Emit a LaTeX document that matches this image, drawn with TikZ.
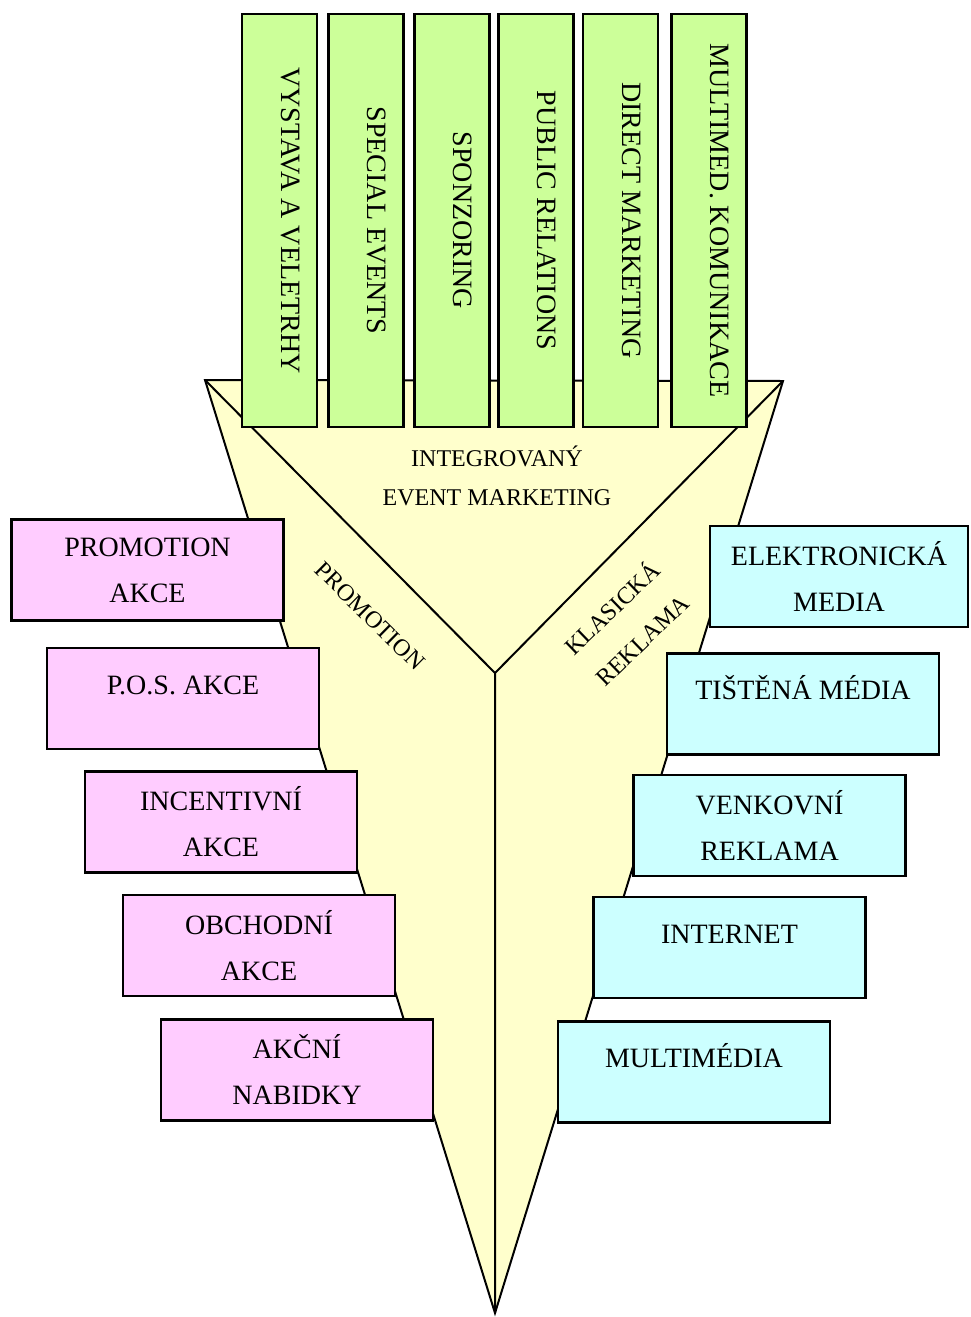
\documentclass[tikz,border=0pt]{standalone}
\usepackage{fontspec}
\setmainfont{Liberation Serif}
\usepackage{xcolor}

\definecolor{funnel}{RGB}{255,255,204}
\definecolor{barfill}{RGB}{204,255,153}
\definecolor{promofill}{RGB}{255,204,255}
\definecolor{mediafill}{RGB}{204,255,255}

\begin{document}
\begin{tikzpicture}[x=1pt,y=-1pt,
  every node/.style={font=\fontsize{28}{46}\selectfont},
  bar/.style={draw,line width=2.5pt,fill=barfill,rotate=-90,minimum width=413pt,minimum height=75pt,inner sep=0pt,text height=19pt,text depth=22pt},
  promobox/.style={draw,line width=2.5pt,fill=promofill,minimum width=272pt,minimum height=101pt,inner sep=0pt,align=center},
  mediabox/.style={promobox,fill=mediafill},
  oneline/.style={text height=19pt,text depth=28pt},
  slant/.style={font=\fontsize{24}{44}\selectfont,align=center,inner sep=0pt}]
  \useasboundingbox (0,0) rectangle (970,1317);
  % trychtyr
  \coordinate (tl) at (205,380); \coordinate (tr) at (783,381);
  \coordinate (hub) at (495,673); \coordinate (tip) at (495,1313);
  \draw[line width=2pt,fill=funnel] (tl) -- (tr) -- (tip) -- cycle;
  \draw[line width=2pt] (tl) -- (hub) -- (tr) (hub) -- (tip);
  \node[font=\fontsize{24}{39}\selectfont,align=center] (iem) at (497,476) {INTEGROVANÝ\\EVENT MARKETING};
  \node[slant,rotate=-44.5] (promo) at (370,616) {PROMOTION};
  \node[slant,rotate=44] (klas) at (626,623) {KLASICKÁ\\REKLAMA};
  % sloupce nahore
  \foreach \x/\name/\txt in {279.5/vystava/VYSTAVA A VELETRHY, 366/special/SPECIAL EVENTS,
      452/sponzor/SPONZORING, 536/pr/PUBLIC RELATIONS, 620.5/direct/DIRECT MARKETING,
      709/multimed/MULTIMED. KOMUNIKACE}
    \node[bar] (\name) at (\x,220.5) {\txt};
  % promotion
  \node[promobox] (akce) at (147.5,570) {PROMOTION\\AKCE};
  \node[promobox,oneline] (pos) at (183,698.5) {P.O.S. AKCE};
  \node[promobox] (incent) at (221,822) {INCENTIVNÍ\\AKCE};
  \node[promobox] (obchod) at (259,945.5) {OBCHODNÍ\\AKCE};
  \node[promobox] (nabidky) at (297,1070) {AKČNÍ\\NABIDKY};
  % klasicka reklama
  \node[mediabox,minimum width=258pt] (elektro) at (839,576.5) {ELEKTRONICKÁ\\MEDIA};
  \node[mediabox,oneline] (tisk) at (803,704) {TIŠTĚNÁ MÉDIA};
  \node[mediabox] (venek) at (769.5,825.5) {VENKOVNÍ\\REKLAMA};
  \node[mediabox,oneline] (inet) at (729.5,947.5) {INTERNET};
  \node[mediabox,oneline] (multi) at (694,1072) {MULTIMÉDIA};
\end{tikzpicture}
\end{document}
